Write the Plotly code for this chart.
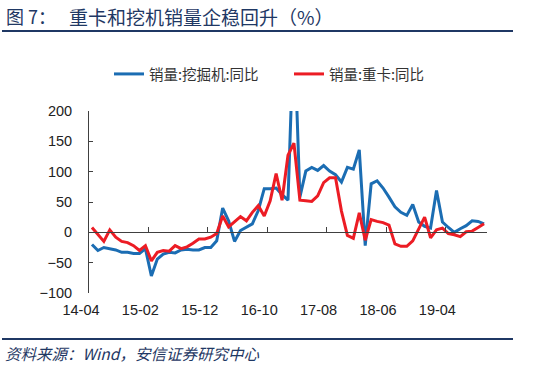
import plotly.graph_objects as go

# ---- data ----
months = [f"{y % 100:02d}-{m:02d}" for y in range(2014, 2020) for m in range(1, 13)
          if (y, m) >= (2014, 4) and (y, m) <= (2019, 10)]

excavator_yoy = [-20, -30, -25, -27, -29, -33, -33, -35, -35, -27,
                 -72, -44, -36, -33, -34, -29, -28, -29, -29, -25,
                 -25, -14, 40, 19, -15, 3, 8, 14, 36, 72,
                 72, 73, 62, 53, 346, 58, 101, 107, 102, 110,
                 101, 95, 83, 107, 104, 136, -22, 80, 85, 73,
                 58, 42, 33, 28, 46, 17, 10, 7, 69, 17,
                 8, 0, 6, 11, 19, 18, 14]

truck_yoy = [8, -4, -15, 4, -8, -15, -17, -22, -30, -22,
             -47, -33, -30, -31, -22, -27, -24, -18, -11, -11,
             -8, -2, 27, 9, 18, 26, 19, 33, 44, 27,
             52, 97, 53, 127, 147, 53, 52, 51, 60, 82,
             90, 90, 35, -5, -10, 32, -13, 21, 18, 16,
             12, -19, -23, -23, -14, 6, 25, -9, 4, 7,
             -2, -4, -7, 1, 2, 8, 14]

tick_labels = ["14-04", "15-02", "15-12", "16-10", "17-08", "18-06", "19-04"]
y_ticks = [-100, -50, 0, 50, 100, 150, 200]

series_names = ["销量:挖掘机:同比", "销量:重卡:同比"]
title_prefix = "图 7："
title_text = "重卡和挖机销量企稳回升（%）"
source_text = "资料来源：Wind，安信证券研究中心"

# ---- style ----
W, H = 550, 372
L, R, T, B = 89, 63, 111, 79
BLUE = "#1b6db3"
RED = "#ec1c24"
NAVY = "#1f3864"
AXIS = "#404040"
CJK = "Noto Sans CJK SC"
NUM = "Liberation Sans, Noto Sans CJK SC"

x_idx = list(range(len(months)))
label_pos = [months.index(t) for t in tick_labels]
tick_marks = [p - 0.5 for p in label_pos[1:]]
xr = [-0.5, len(months) - 0.5]
yr = [y_ticks[0], y_ticks[-1]]


def px(xp):
    return (xp - L) / (W - L - R)


def py(yp):
    return (H - B - yp) / (H - T - B)


fig = go.Figure()
fig.add_trace(go.Scatter(x=x_idx, y=excavator_yoy, mode="lines", name=series_names[0],
                         line=dict(color=BLUE, width=3)))
fig.add_trace(go.Scatter(x=x_idx, y=truck_yoy, mode="lines", name=series_names[1],
                         line=dict(color=RED, width=3)))
fig.add_trace(go.Scatter(x=[None], y=[None], xaxis="x2", showlegend=False,
                         hoverinfo="skip"))

fig.update_layout(
    width=W, height=H,
    margin=dict(l=L, r=R, t=T, b=B),
    paper_bgcolor="white", plot_bgcolor="white",
    showlegend=True,
    legend=dict(orientation="h", xref="container", yref="container",
                x=109 / W, xanchor="left", y=1 - 58 / H, yanchor="top",
                font=dict(family=CJK, size=14.5, color="#333333"),
                itemwidth=30, entrywidth=135, bgcolor="rgba(0,0,0,0)"),
    xaxis=dict(range=xr, anchor="free", position=(0 - yr[0]) / (yr[1] - yr[0]),
               showline=True, linecolor=AXIS, linewidth=1,
               ticks="inside", ticklen=5, tickcolor=AXIS, tickwidth=1,
               tickvals=tick_marks, showticklabels=False, showgrid=False,
               zeroline=False),
    xaxis2=dict(range=xr, overlaying="x", anchor="y", side="bottom",
                showline=False, ticks="", tickvals=label_pos, ticktext=tick_labels,
                ticklabelshift=-11, ticklabelstandoff=6, showgrid=False, zeroline=False,
                tickfont=dict(family=NUM, size=14.5, color="#222222")),
    yaxis=dict(range=yr, tickvals=y_ticks, showline=True, linecolor=AXIS, linewidth=1,
               ticks="inside", ticklen=4, tickcolor=AXIS, showgrid=False, zeroline=False,
               ticklabelstandoff=13,
               tickfont=dict(family=NUM, size=14.5, color="#222222")),
)

fig.add_annotation(text=title_prefix, xref="paper", yref="paper", x=px(4), y=py(16),
                   xanchor="left", yanchor="middle", showarrow=False,
                   font=dict(family=CJK, size=18, color=NAVY))
fig.add_annotation(text=title_text, xref="paper", yref="paper", x=px(67), y=py(16),
                   xanchor="left", yanchor="middle", showarrow=False,
                   font=dict(family=CJK, size=19, color=NAVY))
fig.add_annotation(text=source_text, xref="paper", yref="paper", x=px(3), y=py(353),
                   xanchor="left", yanchor="middle", showarrow=False,
                   font=dict(family=CJK, size=15.5, color=NAVY, style="italic"))

fig.add_shape(type="line", xref="paper", yref="paper", x0=px(2), x1=px(513),
              y0=py(31), y1=py(31), line=dict(color=NAVY, width=2))
fig.add_shape(type="line", xref="paper", yref="paper", x0=px(2), x1=px(513),
              y0=py(339), y1=py(339), line=dict(color=NAVY, width=2))

fig.write_html("out.html", config={"displayModeBar": False},
               post_script="document.body.style.margin='0';")
